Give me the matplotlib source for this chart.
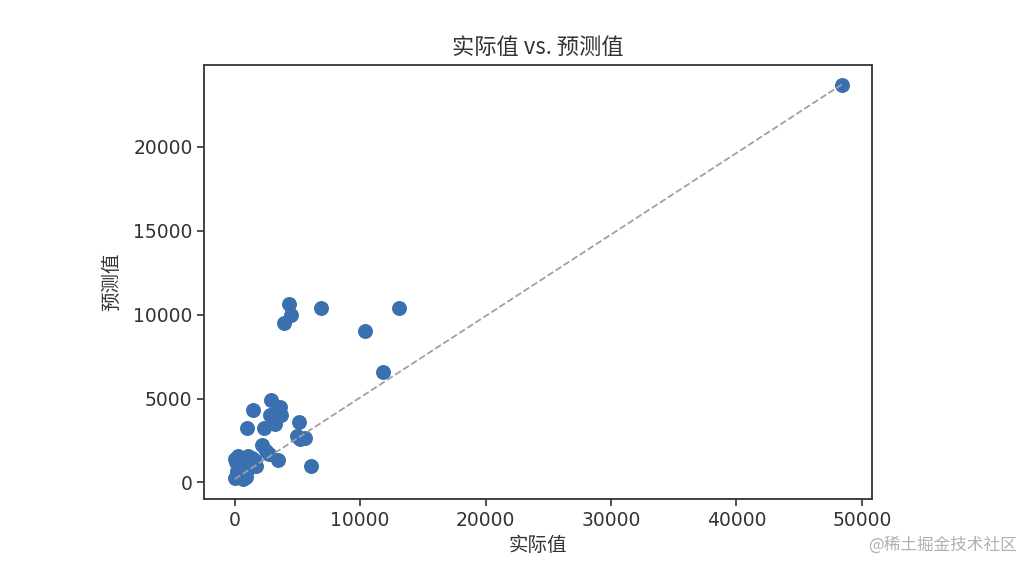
import matplotlib
matplotlib.use('Agg')
import matplotlib.pyplot as plt

plt.rcParams['font.family'] = ['DejaVu Sans', 'Noto Sans CJK SC']
plt.rcParams['axes.unicode_minus'] = False

# values
actual = [48400, 13100, 6900, 10400, 11800, 4300, 4500, 3900, 6100,
          2900, 1500, 3600, 3300, 3700, 2800, 3200, 1000, 2300, 5100,
          5000, 5600, 5200, 2150, 2500, 2700, 3450, 300, 1100, 1400,
          100, 600, 1350, 1700, 900, 30, 700, 400, 200, 800, 1100,
          500, 1600, 0, 900]
pred = [23700, 10400, 10400, 9000, 6600, 10600, 10000, 9500, 950,
        4900, 4300, 4500, 4200, 4000, 4000, 3500, 3250, 3250, 3600,
        2750, 2650, 2600, 2250, 1900, 1700, 1350, 1600, 1600, 1450,
        1200, 900, 1050, 1000, 1250, 250, 200, 500, 700, 600, 800,
        1300, 1300, 1400, 300]

fig = plt.figure(figsize=(10.32, 5.74), dpi=100)
ax = fig.add_axes([0.198, 0.131, 0.647, 0.756])

ax.scatter(actual, pred, s=95, color='#3a70b0', zorder=2)
ax.plot([min(actual), max(actual)], [min(pred), max(pred)],
        color='#a0a0a0', linestyle='--', linewidth=1.3, zorder=3)

cjk = ['Noto Sans CJK SC', 'DejaVu Sans']
ax.set_title('实际值 vs. 预测值', fontsize=16, pad=8, family=cjk, color='#333333')
ax.set_xlabel('实际值', fontsize=14, family=cjk, color='#333333')
ax.set_ylabel('预测值', fontsize=14, family=cjk, color='#333333', labelpad=8)
ax.set_xticks([0, 10000, 20000, 30000, 40000, 50000])
ax.set_yticks([0, 5000, 10000, 15000, 20000])
ax.tick_params(labelsize=13.5, length=5, width=1.2, colors='#333333')
for sp in ax.spines.values():
    sp.set_linewidth(1.3)
    sp.set_color('#333333')

fig.text(0.985, 0.035, '@稀土掘金技术社区', ha='right', va='bottom',
         fontsize=12, color='#b0b0b0', family=cjk)

fig.savefig('out.png', dpi=100)
